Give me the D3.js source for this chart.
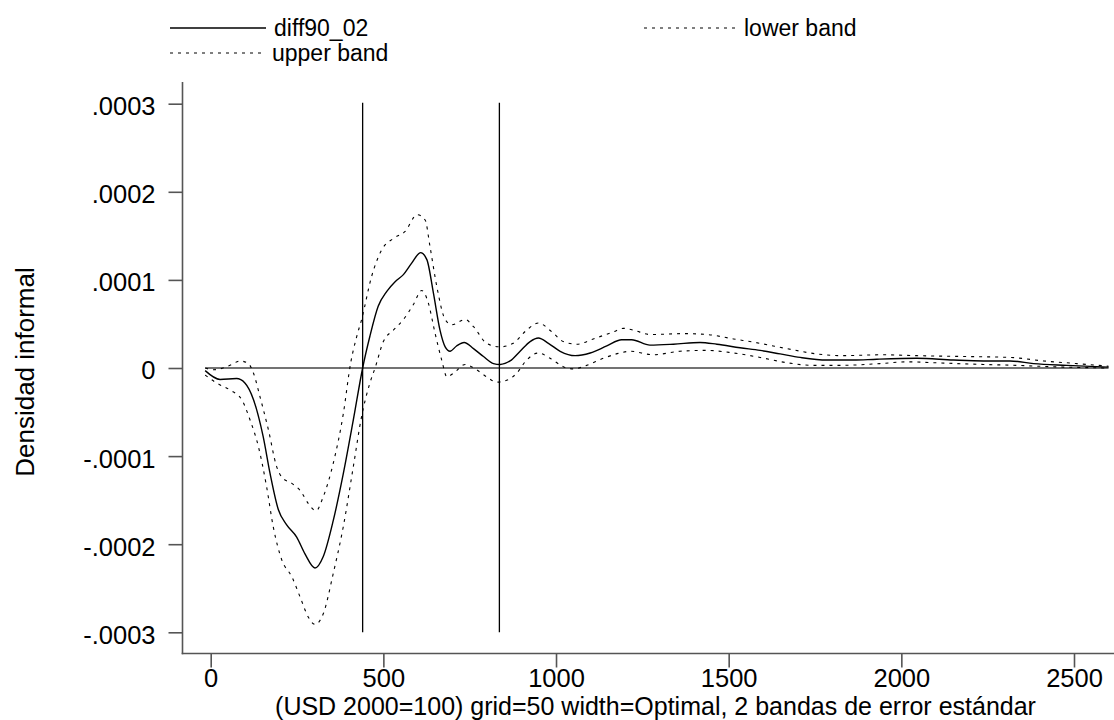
<!DOCTYPE html>
<html>
<head>
<meta charset="utf-8">
<script src="https://cdn.jsdelivr.net/npm/d3@7"></script>
<style>
  html, body { margin: 0; padding: 0; background: #fff; }
  text { font-family: "Liberation Sans", Arial, sans-serif; fill: #000; }
</style>
</head>
<body>
<svg id="chart" width="1114" height="720"></svg>
<script>
// ---- Data ----
const diffX = [-16, 27, 75, 99, 124, 152, 172, 196, 220, 249, 273, 302, 326, 355, 384, 413, 440, 461, 485, 510, 534, 558, 582, 608, 626, 645, 664, 679, 693, 712, 734, 761, 790, 819, 838, 867, 896, 925, 949, 978, 1012, 1055, 1099, 1147, 1190, 1219, 1272, 1340, 1417, 1466, 1533, 1591, 1649, 1707, 1784, 1861, 1929, 2045, 2151, 2238, 2315, 2383, 2479, 2600];
const diffY = [-3e-6, -1.3e-5, -1.2e-5, -1.7e-5, -3.6e-5, -7.8e-5, -1.2e-4, -1.61e-4, -1.78e-4, -1.92e-4, -2.11e-4, -2.27e-4, -2.14e-4, -1.73e-4, -1.2e-4, -5.9e-5, 0, 3.6e-5, 7.0e-5, 8.7e-5, 9.8e-5, 1.06e-4, 1.19e-4, 1.31e-4, 1.23e-4, 8.5e-5, 4.3e-5, 2.4e-5, 1.9e-5, 2.5e-5, 2.9e-5, 2.2e-5, 1.3e-5, 5e-6, 4e-6, 8e-6, 1.9e-5, 3.0e-5, 3.4e-5, 2.8e-5, 1.9e-5, 1.4e-5, 1.7e-5, 2.5e-5, 3.2e-5, 3.2e-5, 2.6e-5, 2.7e-5, 2.9e-5, 2.7e-5, 2.3e-5, 2.0e-5, 1.6e-5, 1.2e-5, 9e-6, 9e-6, 1.0e-5, 1.1e-5, 9e-6, 8e-6, 8e-6, 5e-6, 3e-6, 1e-6];

const upperX = [-16, 8, 56, 85, 109, 124, 143, 167, 191, 206, 235, 259, 283, 305, 326, 355, 384, 405, 423, 437, 466, 495, 529, 563, 598, 621, 635, 655, 679, 698, 737, 761, 799, 838, 876, 915, 949, 988, 1021, 1060, 1108, 1166, 1195, 1224, 1272, 1369, 1437, 1514, 1591, 1668, 1755, 1823, 1948, 2045, 2190, 2315, 2412, 2508, 2600];
const upperY = [0, -2e-6, 3e-6, 8e-6, 5e-6, -6e-6, -3.3e-5, -7.0e-5, -1.12e-4, -1.24e-4, -1.31e-4, -1.39e-4, -1.54e-4, -1.62e-4, -1.46e-4, -1.08e-4, -5.2e-5, 5e-6, 3.6e-5, 5.5e-5, 1.04e-4, 1.34e-4, 1.47e-4, 1.55e-4, 1.74e-4, 1.68e-4, 1.38e-4, 9.2e-5, 5.5e-5, 4.9e-5, 5.5e-5, 4.7e-5, 2.8e-5, 2.4e-5, 2.8e-5, 4.3e-5, 5.1e-5, 4.1e-5, 3.0e-5, 2.7e-5, 3.3e-5, 4.1e-5, 4.5e-5, 4.3e-5, 3.8e-5, 3.9e-5, 3.8e-5, 3.3e-5, 2.8e-5, 2.2e-5, 1.6e-5, 1.4e-5, 1.5e-5, 1.4e-5, 1.3e-5, 1.2e-5, 8e-6, 5e-6, 2e-6];

const lowerX = [-16, 17, 56, 90, 114, 138, 162, 181, 206, 235, 259, 283, 302, 326, 355, 384, 413, 437, 461, 476, 500, 529, 558, 587, 611, 630, 650, 669, 684, 703, 737, 770, 799, 828, 857, 886, 915, 949, 983, 1021, 1050, 1089, 1137, 1185, 1214, 1282, 1359, 1437, 1514, 1591, 1668, 1745, 1823, 1938, 2016, 2093, 2238, 2334, 2431, 2600];
const lowerY = [-8e-6, -1.7e-5, -2.5e-5, -3.6e-5, -5.9e-5, -8.9e-5, -1.35e-4, -1.80e-4, -2.18e-4, -2.37e-4, -2.60e-4, -2.83e-4, -2.91e-4, -2.79e-4, -2.33e-4, -1.80e-4, -1.12e-4, -5.5e-5, -1.7e-5, 0, 3.0e-5, 4.3e-5, 5.5e-5, 7.2e-5, 8.8e-5, 7.4e-5, 3.9e-5, 9e-6, -1.0e-5, -6e-6, 4e-6, -2e-6, -1.0e-5, -1.6e-5, -1.4e-5, -6e-6, 9e-6, 1.7e-5, 1.1e-5, 1.5e-6, -1e-6, 3e-6, 1.1e-5, 1.7e-5, 1.9e-5, 1.5e-5, 1.9e-5, 2.0e-5, 1.7e-5, 1.2e-5, 6e-6, 3e-6, 3e-6, 5e-6, 7e-6, 6e-6, 4e-6, 3e-6, 1.5e-6, 0];

const refLinesX = [440, 836];
const xTicks = [0, 500, 1000, 1500, 2000, 2500];
const yTicks = [-0.0003, -0.0002, -0.0001, 0, 0.0001, 0.0002, 0.0003];
const yTickLabels = ["-.0003", "-.0002", "-.0001", "0", ".0001", ".0002", ".0003"];
const seriesNames = ["diff90_02", "upper band", "lower band"];
const xTitle = "(USD 2000=100) grid=50 width=Optimal, 2 bandas de error estándar";
const yTitle = "Densidad informal";

// ---- Layout ----
const svg = d3.select("#chart");
const x = d3.scaleLinear().domain([0, 2500]).range([210.7, 1074]);
const y = d3.scaleLinear().domain([-0.0003, 0.0003]).range([632.3, 103.7]);
const axisColor = "#555";
const axisX0 = 182.5, axisY0 = 653.5;
const tickFont = "25.5px";

// axes
const yAxis = d3.axisLeft(y).tickValues(yTicks).tickSize(14).tickFormat((d, i) => yTickLabels[i]);
const gy = svg.append("g").attr("transform", `translate(${axisX0},0)`).call(yAxis);
gy.select(".domain").remove();
gy.selectAll(".tick line").attr("stroke", axisColor).attr("stroke-width", 1.6);
gy.selectAll(".tick text").attr("x", -27).attr("dy", "0.43em")
  .style("font-size", tickFont).style("font-family", "Liberation Sans, Arial, sans-serif").attr("fill", "#000");

const xAxis = d3.axisBottom(x).tickValues(xTicks).tickSize(14).tickFormat(d3.format("d"));
const gx = svg.append("g").attr("transform", `translate(0,${axisY0})`).call(xAxis);
gx.select(".domain").remove();
gx.selectAll(".tick line").attr("stroke", axisColor).attr("stroke-width", 1.6);
gx.selectAll(".tick text").attr("y", 15).attr("dy", "0.71em")
  .style("font-size", tickFont).style("font-family", "Liberation Sans, Arial, sans-serif").attr("fill", "#000");

// axis lines
svg.append("line").attr("x1", axisX0).attr("x2", axisX0).attr("y1", 82).attr("y2", axisY0 + 0.8)
  .attr("stroke", axisColor).attr("stroke-width", 1.6);
svg.append("line").attr("x1", axisX0 - 0.8).attr("x2", 1114).attr("y1", axisY0).attr("y2", axisY0)
  .attr("stroke", axisColor).attr("stroke-width", 1.6);

// zero reference line
svg.append("line").attr("x1", x(-16)).attr("x2", x(2600)).attr("y1", y(0)).attr("y2", y(0))
  .attr("stroke", "#444").attr("stroke-width", 1.3);

// vertical reference lines
svg.selectAll(".vref").data(refLinesX).join("line").attr("class", "vref")
  .attr("x1", d => x(d)).attr("x2", d => x(d)).attr("y1", y(0.0003) - 1).attr("y2", y(-0.0003))
  .attr("stroke", "#000").attr("stroke-width", 1.3);

// series
const line = d3.line().x(d => x(d[0])).y(d => y(d[1])).curve(d3.curveMonotoneX);
const zip = (a, b) => a.map((v, i) => [v, b[i]]);
svg.append("path").datum(zip(upperX, upperY)).attr("d", line)
  .attr("fill", "none").attr("stroke", "#000").attr("stroke-width", 1.1).attr("stroke-dasharray", "3,5");
svg.append("path").datum(zip(lowerX, lowerY)).attr("d", line)
  .attr("fill", "none").attr("stroke", "#000").attr("stroke-width", 1.1).attr("stroke-dasharray", "3,5");
svg.append("path").datum(zip(diffX, diffY)).attr("d", line)
  .attr("fill", "none").attr("stroke", "#000").attr("stroke-width", 1.4);

// legend
const legend = [
  { name: seriesNames[0], x1: 170, x2: 266, y: 28, dash: null },
  { name: seriesNames[2], x1: 644, x2: 736, y: 28, dash: "3,5" },
  { name: seriesNames[1], x1: 170, x2: 264, y: 53, dash: "3,5" }
];
const lg = svg.append("g");
legend.forEach(l => {
  lg.append("line").attr("x1", l.x1).attr("x2", l.x2).attr("y1", l.y).attr("y2", l.y)
    .attr("stroke", "#000").attr("stroke-width", l.dash ? 1.1 : 1.4)
    .attr("stroke-dasharray", l.dash);
  lg.append("text").attr("x", l.x2 + 8).attr("y", l.y + 7.5)
    .style("font-size", "23px").text(l.name);
});

// titles
svg.append("text").attr("x", 655.5).attr("y", 714.5).attr("text-anchor", "middle")
  .style("font-size", "25px").text(xTitle);
svg.append("text").attr("transform", "translate(34,372) rotate(-90)").attr("text-anchor", "middle")
  .style("font-size", "26px").text(yTitle);
</script>
</body>
</html>
